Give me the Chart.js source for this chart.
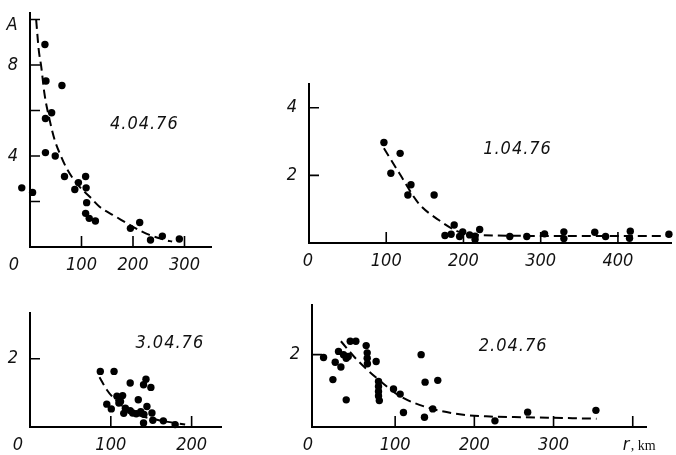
<!DOCTYPE html>
<html lang="en">
<head>
    <meta charset="UTF-8">
    <title>A vs r</title>
    <script src="https://cdn.jsdelivr.net/npm/chart.js"></script>
    <style>
        body { margin: 0; background: #fff; }
        #wrap { position: relative; width: 676px; height: 455px; }
        #wrap canvas { position: absolute; left: 0; top: 0; }
    </style>
</head>
<body>
<div id="wrap">
    <canvas id="c1" width="676" height="455"></canvas>
    <canvas id="c2" width="676" height="455"></canvas>
    <canvas id="c3" width="676" height="455"></canvas>
    <canvas id="c4" width="676" height="455"></canvas>
</div>
<script>
    // 4.04.76
    const p1X = [-16, 5, 29, 31, 62, 30, 42, 30, 49, 67, 87, 94, 108, 109, 110, 108, 115, 127, 195, 213, 234, 257, 290];
    const p1Y = [2.6, 2.4, 8.9, 7.3, 7.1, 5.65, 5.9, 4.15, 4.0, 3.1, 2.53, 2.83, 3.1, 2.6, 1.95, 1.48, 1.26, 1.14, 0.82, 1.08, 0.31, 0.48, 0.35];
    const p1FitX = [12, 17, 22, 28, 38, 48, 60, 73, 96, 116, 135, 167, 199, 232, 264, 276];
    const p1FitY = [9.98, 8.66, 7.9, 6.75, 5.6, 4.7, 4.0, 3.38, 2.65, 2.21, 1.77, 1.33, 0.9, 0.53, 0.3, 0.24];

    // 1.04.76
    const p2X = [97, 106, 118, 132, 128, 162, 188, 176, 184, 195, 199, 208, 215, 215, 221, 260, 282, 305, 330, 330, 370, 384, 416, 415, 466];
    const p2Y = [2.97, 2.06, 2.65, 1.72, 1.42, 1.42, 0.53, 0.22, 0.26, 0.19, 0.33, 0.24, 0.2, 0.1, 0.4, 0.19, 0.19, 0.27, 0.33, 0.13, 0.32, 0.19, 0.35, 0.14, 0.26];
    const p2FitX = [97, 117, 142, 168, 194, 215, 300, 470];
    const p2FitY = [2.8, 2.06, 1.17, 0.68, 0.33, 0.24, 0.21, 0.21];

    // 3.04.76
    const p3X = [87, 104, 124, 143.5, 140.5, 149.6, 95, 100.6, 107.6, 114.6, 110, 118, 124, 134, 144.7, 131.5, 141, 150.9, 152, 140.5, 165, 179.6, 116, 127, 137, 112];
    const p3Y = [1.63, 1.63, 1.29, 1.4, 1.24, 1.16, 0.67, 0.53, 0.9, 0.92, 0.7, 0.55, 0.48, 0.8, 0.6, 0.39, 0.37, 0.41, 0.2, 0.12, 0.18, 0.07, 0.4, 0.41, 0.45, 0.75];
    const p3FitX = [86, 95, 105.5, 128, 157, 192];
    const p3FitY = [1.46, 1.09, 0.8, 0.41, 0.21, 0.07];

    // 2.04.76
    const p4X = [9.6, 21.4, 24.3, 28.5, 31.5, 34.8, 38.2, 40.7, 38.2, 43.3, 50.4, 63.4, 64.7, 64.7, 65, 76, 79, 79, 79, 79, 80, 97.9, 106.3, 110.5, 132.8, 137.8, 153.8, 137, 147.5, 226, 267.3, 353.5];
    const p4Y = [1.92, 1.31, 1.79, 2.09, 1.66, 2.0, 1.9, 1.95, 0.75, 2.37, 2.37, 2.25, 2.05, 1.9, 1.75, 1.81, 1.26, 1.12, 0.98, 0.86, 0.73, 1.05, 0.91, 0.4, 2.0, 1.24, 1.29, 0.27, 0.5, 0.17, 0.41, 0.46];
    const p4FitX = [31.5, 51.7, 79, 106.3, 144, 186, 219.8, 261.8, 354.3];
    const p4FitY = [2.37, 1.86, 1.31, 0.85, 0.52, 0.34, 0.29, 0.27, 0.23];

    const FONT = 'italic 18px "Liberation Sans Narrow", "DejaVu Sans Condensed", sans-serif';

    const zip = (xs, ys) => xs.map((x, i) => ({ x: x, y: ys[i] }));

    // axis lines, inward tick marks, tick labels and date caption
    const decor = {
        id: 'decor',
        afterDraw(chart) {
            const p = chart.options.plugins.decor;
            const ctx = chart.ctx, xs = chart.scales.x, ys = chart.scales.y, a = chart.chartArea;
            const x0 = xs.getPixelForValue(p.yAxisAt);
            ctx.save();
            ctx.strokeStyle = '#000';
            ctx.lineWidth = 2;
            ctx.beginPath();
            ctx.moveTo(x0, a.top);
            ctx.lineTo(x0, a.bottom);
            ctx.lineTo(a.right, a.bottom);
            ctx.stroke();

            ctx.lineWidth = 1.6;
            ctx.beginPath();
            p.yTicks.forEach(v => { const y = ys.getPixelForValue(v); ctx.moveTo(x0, y); ctx.lineTo(x0 + 10, y); });
            p.xTicks.forEach(v => { const x = xs.getPixelForValue(v); ctx.moveTo(x, a.bottom); ctx.lineTo(x, a.bottom - 11); });
            ctx.stroke();

            ctx.fillStyle = '#111';
            ctx.font = FONT;
            ctx.textAlign = 'center';
            ctx.textBaseline = 'middle';
            p.xLabels.forEach(v => {
                let x = xs.getPixelForValue(v);
                if (v === 0) x += p.zeroShift;
                ctx.fillText(String(v), x, a.bottom + 18);
            });
            p.yLabels.forEach(v => ctx.fillText(String(v), x0 - 17, ys.getPixelForValue(v)));
            if (p.yTitle) ctx.fillText(p.yTitle, x0 - 18, a.top + 13);
            if (p.rLabel) {
                const x = xs.getPixelForValue(400);
                ctx.textAlign = 'left';
                ctx.fillText('r', x - 10, a.bottom + 18);
                ctx.font = '14px "Liberation Serif", serif';
                ctx.fillText(', km', x - 2, a.bottom + 19);
            }
            ctx.font = FONT;
            ctx.textAlign = 'center';
            ctx.letterSpacing = '1px';
            ctx.fillText(p.date, xs.getPixelForValue(p.datePos[0]), ys.getPixelForValue(p.datePos[1]));
            ctx.restore();
        }
    };

    const panels = [
        { id: 'c1', px: p1X, py: p1Y, fx: p1FitX, fy: p1FitY, xMin: -20, xMax: 353.4, yMax: 10.33, yAxisAt: 0,
          pad: { left: 19.7, top: 12, right: 464, bottom: 208 },
          xTicks: [100, 200, 300], yTicks: [2, 4, 6, 8, 10], xLabels: [0, 100, 200, 300], yLabels: [4, 8],
          zeroShift: -16, yTitle: 'A', date: '4.04.76', datePos: [222, 5.4] },
        { id: 'c2', px: p2X, py: p2Y, fx: p2FitX, fy: p2FitY, xMin: 0, xMax: 470, yMax: 4.73, yAxisAt: 0,
          pad: { left: 309, top: 83, right: 0, bottom: 212 },
          xTicks: [100, 200, 300, 400], yTicks: [2, 4], xLabels: [0, 100, 200, 300, 400], yLabels: [2, 4],
          zeroShift: -1, date: '1.04.76', datePos: [270, 2.78] },
        { id: 'c3', px: p3X, py: p3Y, fx: p3FitX, fy: p3FitY, xMin: 0, xMax: 237.6, yMax: 3.37, yAxisAt: 0,
          pad: { left: 30, top: 312, right: 454, bottom: 28 },
          xTicks: [100, 200], yTicks: [2], xLabels: [0, 100, 200], yLabels: [2],
          zeroShift: -12, date: '3.04.76', datePos: [173, 2.46] },
        { id: 'c4', px: p4X, py: p4Y, fx: p4FitX, fy: p4FitY, xMin: -5, xMax: 418, yMax: 3.4, yAxisAt: -5,
          pad: { left: 312, top: 304, right: 29, bottom: 28 },
          xTicks: [100, 200, 300, 400], yTicks: [2], xLabels: [0, 100, 200, 300], yLabels: [2],
          zeroShift: -8, rLabel: true, date: '2.04.76', datePos: [249, 2.22] }
    ];

    panels.forEach(p => {
        const axis = (min, max) => ({
            type: 'linear', min: min, max: max,
            grid: { display: false, drawTicks: false },
            ticks: { display: false },
            border: { display: false }
        });
        new Chart(document.getElementById(p.id), {
            type: 'scatter',
            data: {
                datasets: [
                    { data: zip(p.px, p.py), backgroundColor: '#000', borderColor: '#000',
                      pointRadius: 3.7, pointBorderWidth: 0, clip: false },
                    { data: zip(p.fx, p.fy), showLine: true, borderColor: '#000', borderWidth: 2,
                      borderDash: [9, 5], pointRadius: 0, cubicInterpolationMode: 'monotone', clip: false }
                ]
            },
            options: {
                responsive: false,
                animation: false,
                layout: { padding: p.pad },
                scales: { x: axis(p.xMin, p.xMax), y: axis(0, p.yMax) },
                plugins: {
                    legend: { display: false },
                    tooltip: { enabled: false },
                    decor: p
                }
            },
            plugins: [decor]
        });
    });
</script>
</body>
</html>
